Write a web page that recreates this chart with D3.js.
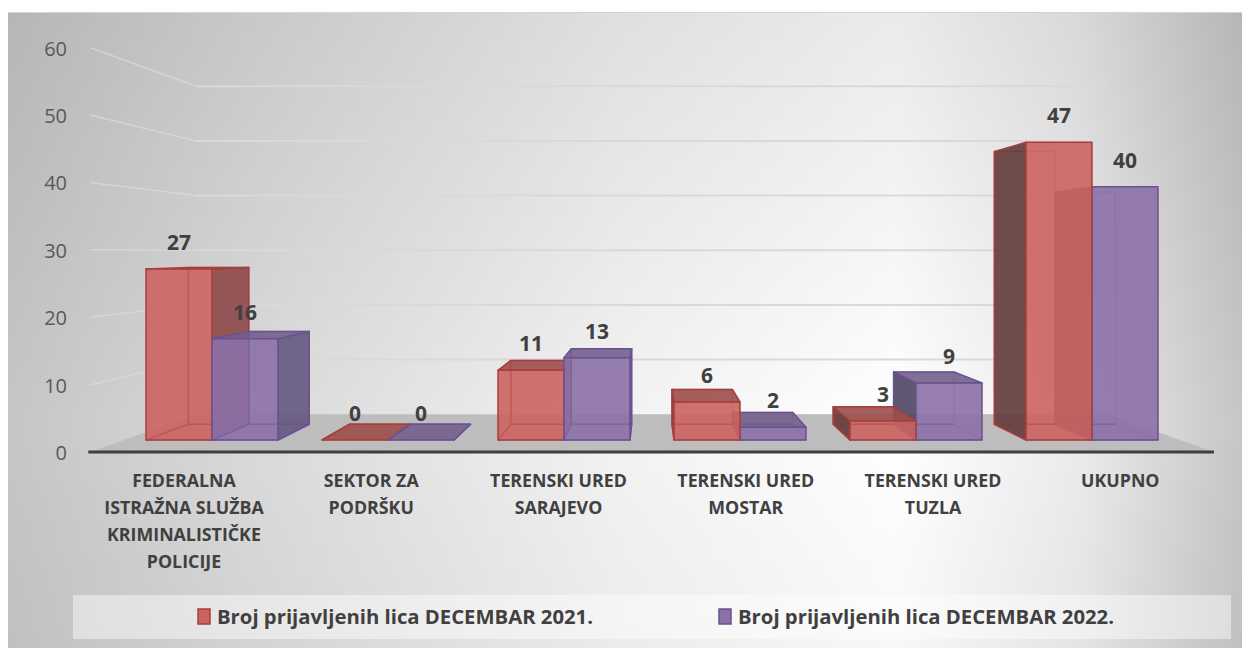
<!DOCTYPE html>
<html>
<head>
<meta charset="utf-8">
<script src="https://cdn.jsdelivr.net/npm/d3@7"></script>
<style>
  body { margin: 0; background: #fff; }
  svg { display: block; }
</style>
</head>
<body>
<div id="chart"></div>
<script>
// podaci
var categories = [
  ['FEDERALNA', 'ISTRAŽNA SLUŽBA', 'KRIMINALISTIČKE', 'POLICIJE'],
  ['SEKTOR ZA', 'PODRŠKU'],
  ['TERENSKI URED', 'SARAJEVO'],
  ['TERENSKI URED', 'MOSTAR'],
  ['TERENSKI URED', 'TUZLA'],
  ['UKUPNO']
]
var values2021 = [27, 0, 11, 6, 3, 47]
var values2022 = [16, 0, 13, 2, 9, 40]
var seriesNames = ['Broj prijavljenih lica DECEMBAR 2021.', 'Broj prijavljenih lica DECEMBAR 2022.']
var yTicks = [0, 10, 20, 30, 40, 50, 60]

var width = 1242, height = 648

// perspektiva (jedna tacka nestajanja)
var vx = 650, vy = 252
var sBack = 0.916, sWall = 0.863, sFloor = 1.064
function proj(px, py, s) { return [vx + (px - vx) * s, vy + (py - vy) * s] }

var colors = [
  { front: '#cb6361', side: '#8c4747', sideL: '#623a3b', top: '#9d4e4c', stroke: '#a63f3c' },
  { front: '#8b70a9', side: '#655681', sideL: '#4e4563', top: '#735f8d', stroke: '#6a5290' }
]

var x = d3.scaleBand().domain(d3.range(categories.length)).range([124, 1180])
  .paddingInner(0.25).paddingOuter(0.125)
var xs = d3.scaleBand().domain([0, 1]).range([0, x.bandwidth()])
var y = d3.scaleLinear().domain([0, 60]).range([440, 60])

var svg = d3.select('#chart').append('svg')
  .attr('width', width)
  .attr('height', height)

var defs = svg.append('defs')
var hg = defs.append('linearGradient').attr('id', 'bg-h')
  .attr('x1', 0).attr('x2', 1).attr('y1', 0).attr('y2', 0)
var hStops = [[0, '#c6c6c6'], [0.2, '#dadada'], [0.5, '#f3f3f3'], [0.72, '#ffffff'], [0.87, '#ebebeb'], [1, '#c6c6c6']]
hStops.forEach(function(s) {
  hg.append('stop').attr('offset', s[0]).attr('stop-color', s[1])
})
var vg = defs.append('linearGradient').attr('id', 'bg-v')
  .attr('x1', 0).attr('x2', 0).attr('y1', 0).attr('y2', 1)
vg.append('stop').attr('offset', '0%').attr('stop-color', '#000').attr('stop-opacity', 0.08)
vg.append('stop').attr('offset', '65%').attr('stop-color', '#000').attr('stop-opacity', 0)
vg.append('stop').attr('offset', '100%').attr('stop-color', '#000').attr('stop-opacity', 0.03)

// pozadina
svg.append('rect').attr('x', 8).attr('y', 12).attr('width', width - 8).attr('height', height - 12)
  .attr('fill', 'url(#bg-h)')
svg.append('rect').attr('x', 8).attr('y', 12).attr('width', width - 8).attr('height', height - 12)
  .attr('fill', 'url(#bg-v)')
svg.append('line').attr('x1', 8).attr('x2', width).attr('y1', 12.5).attr('y2', 12.5)
  .attr('stroke', '#d4d4d4').attr('stroke-width', 1)

var x0 = x.range()[0], x1 = x.range()[1]

// mreza na zadnjem i lijevom zidu
yTicks.filter(function(t) { return t > 0 }).forEach(function(t) {
  var a = proj(x0, y(t), sFloor), b = proj(x0, y(t), sWall), c = proj(x1, y(t), sWall)
  svg.append('line')
    .attr('x1', a[0]).attr('y1', a[1]).attr('x2', b[0]).attr('y2', b[1])
    .attr('stroke', '#dcdcdc').attr('stroke-opacity', 0.7).attr('stroke-width', 1.5)
  svg.append('line')
    .attr('x1', b[0]).attr('y1', b[1]).attr('x2', c[0]).attr('y2', c[1])
    .attr('stroke', '#d9d9d9').attr('stroke-width', 2)
})

// pod
var floorPts = [proj(x0, y(0), sFloor), proj(x1, y(0), sFloor), proj(x1, y(0), sWall), proj(x0, y(0), sWall)]
svg.append('polygon')
  .attr('points', floorPts.map(function(p) { return p.join(',') }).join(' '))
  .attr('fill', '#bdbdbd')

// os
var axA = proj(x0, y(0), sFloor), axB = proj(x1, y(0), sFloor)
svg.append('line')
  .attr('x1', axA[0] - 2).attr('y1', axA[1]).attr('x2', axB[0]).attr('y2', axB[1])
  .attr('stroke', '#3f3f3f').attr('stroke-width', 3)

// oznake y ose
svg.append('g').selectAll('text')
  .data(yTicks)
  .enter()
  .append('text')
  .attr('x', 67)
  .attr('y', function(t) { return proj(x0, y(t), sFloor)[1] + 8 })
  .attr('text-anchor', 'end')
  .attr('font-family', 'Open Sans, sans-serif')
  .attr('font-size', 20)
  .attr('fill', '#595959')
  .text(function(t) { return t })

// stubci
var bars = []
categories.forEach(function(c, i) {
  [values2021, values2022].forEach(function(vals, j) {
    var bx0 = x(i) + xs(j)
    bars.push({ cat: i, ser: j, value: vals[i], x0: bx0, x1: bx0 + xs.bandwidth() })
  })
})
bars.sort(function(a, b) {
  return Math.abs((b.x0 + b.x1) / 2 - vx) - Math.abs((a.x0 + a.x1) / 2 - vx)
})

function poly(g, pts, fill, stroke, opacity) {
  g.append('polygon')
    .attr('points', pts.map(function(p) { return p.join(',') }).join(' '))
    .attr('fill', fill)
    .attr('stroke', stroke)
    .attr('stroke-width', 1.5)
    .attr('stroke-linejoin', 'round')
    .attr('stroke-opacity', opacity == null ? 1 : opacity)
}

var barLayer = svg.append('g')
bars.forEach(function(d) {
  var col = colors[d.ser]
  var yt = y(d.value), yb = y(0)
  var fTL = [d.x0, yt], fTR = [d.x1, yt], fBL = [d.x0, yb], fBR = [d.x1, yb]
  var bTL = proj(d.x0, yt, sBack), bTR = proj(d.x1, yt, sBack)
  var bBL = proj(d.x0, yb, sBack), bBR = proj(d.x1, yb, sBack)
  var g = barLayer.append('g')

  // skrivene ivice (providni stubci)
  poly(g, [bTL, bTR, bBR, bBL], 'none', col.stroke, 0.45)
  poly(g, [fBL, fBR, bBR, bBL], 'none', col.stroke, 0.45)

  // bocne strane
  if (d.x0 > vx) poly(g, [fTL, bTL, bBL, fBL], col.sideL, col.stroke)
  if (d.x1 < vx) poly(g, [fTR, bTR, bBR, fBR], col.side, col.stroke)
  // gornja strana
  if (yt > vy) poly(g, [fTL, fTR, bTR, bTL], col.top, col.stroke)
  // prednja strana
  if (yb > yt) poly(g, [fTL, fTR, fBR, fBL], col.front, col.stroke)
  g.selectAll('polygon').attr('fill-opacity', 0.9)
  // unutrasnje ivice vidljive kroz prednju stranu
  g.append('path')
    .attr('d', 'M' + bTL + 'L' + bBL + 'L' + bBR + 'M' + bBL + 'L' + fBL)
    .attr('fill', 'none').attr('stroke', col.stroke).attr('stroke-opacity', 0.35).attr('stroke-width', 1.5)
})

// oznake vrijednosti
svg.append('g').selectAll('text')
  .data(bars)
  .enter()
  .append('text')
  .attr('x', function(d) { return (d.x0 + d.x1) / 2 })
  .attr('y', function(d) { return y(d.value) - 19 })
  .attr('text-anchor', 'middle')
  .attr('font-family', 'Open Sans, sans-serif')
  .attr('font-weight', 700)
  .attr('font-size', 21)
  .attr('fill', '#404040')
  .text(function(d) { return d.value })

// oznake kategorija
var catLabels = svg.append('g').selectAll('text')
  .data(categories)
  .enter()
  .append('text')
  .attr('text-anchor', 'middle')
  .attr('font-family', 'Open Sans, sans-serif')
  .attr('font-weight', 700)
  .attr('font-size', 17.8)
  .attr('fill', '#404040')

catLabels.each(function(lines, i) {
  var cx = proj(x(i) + x.bandwidth() / 2, y(0), sFloor)[0]
  d3.select(this).selectAll('tspan')
    .data(lines)
    .enter()
    .append('tspan')
    .attr('x', cx)
    .attr('y', function(l, k) { return 487 + k * 27 })
    .text(function(l) { return l })
})

// legenda
svg.append('rect')
  .attr('x', 73).attr('y', 595).attr('width', 1158).attr('height', 44)
  .attr('fill', '#ffffff').attr('fill-opacity', 0.45)

var legendX = [198, 719]
seriesNames.forEach(function(name, j) {
  svg.append('rect')
    .attr('x', legendX[j]).attr('y', 609).attr('width', 12).attr('height', 15)
    .attr('fill', colors[j].front).attr('stroke', colors[j].stroke).attr('stroke-width', 1.5)
  svg.append('text')
    .attr('x', legendX[j] + 19).attr('y', 624)
    .attr('font-family', 'Open Sans, sans-serif')
    .attr('font-weight', 700)
    .attr('font-size', 19)
    .attr('fill', '#404040')
    .attr('textLength', 376)
    .attr('lengthAdjust', 'spacingAndGlyphs')
    .text(name)
})
</script>
</body>
</html>
